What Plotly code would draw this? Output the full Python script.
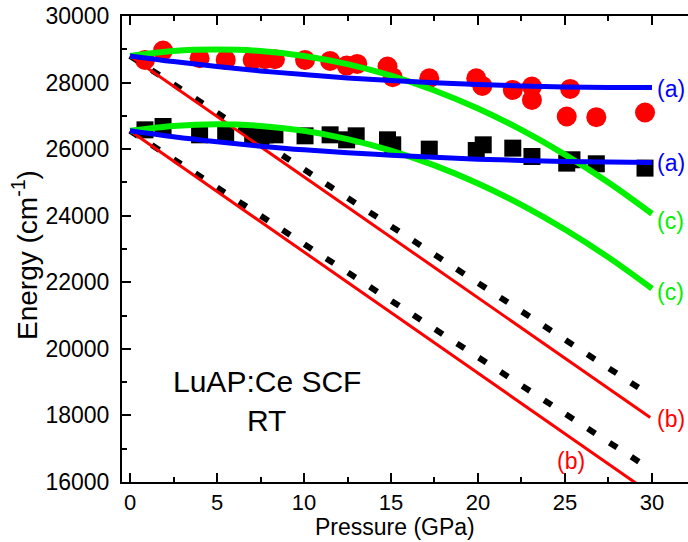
import plotly.graph_objects as go

# ---- data ----
P_circ = [0.86, 1.9, 4.0, 5.5, 7.05, 7.76, 8.33, 10.06, 11.5, 12.45, 13.06, 14.8, 15.1, 17.2, 19.9, 20.25, 22.0, 23.1, 23.1, 25.1, 25.3, 26.8, 29.6]
E_circ = [28680, 28960, 28730, 28680, 28680, 28700, 28700, 28680, 28650, 28510, 28560, 28480, 28160, 28130, 28130, 27900, 27780, 27880, 27480, 26980, 27810, 26960, 27100]

P_sq = [0.86, 1.9, 4.0, 5.5, 7.05, 7.76, 8.33, 10.06, 11.5, 12.45, 13.0, 14.8, 15.1, 17.2, 19.9, 20.3, 22.0, 23.1, 25.1, 25.4, 26.8, 29.6]
E_sq = [26580, 26680, 26430, 26430, 26430, 26430, 26430, 26400, 26430, 26280, 26400, 26280, 26130, 26000, 25960, 26130, 26030, 25780, 25580, 25680, 25560, 25430]

P_curve = [0, 2.5, 5, 7.5, 10, 12.5, 15, 17.5, 20, 22.5, 25, 27.5, 30]
E_a_up = [28800, 28630, 28480, 28350, 28240, 28140, 28060, 27995, 27940, 27900, 27870, 27855, 27850]
E_a_lo = [26550, 26370, 26220, 26090, 25980, 25895, 25820, 25755, 25700, 25660, 25630, 25610, 25600]
E_c_up = [28800, 28948, 28990, 28948, 28800, 28553, 28208, 27763, 27220, 26578, 25837, 24998, 24060]
E_c_lo = [26550, 26698, 26748, 26698, 26550, 26303, 25958, 25513, 24970, 24328, 23587, 22748, 21810]

P_b_up = [0, 29.9]
E_b_up = [28800, 17940]
P_b_lo = [0, 30]
E_b_lo = [26550, 15630]

P_d = [0, 29.3]
E_d_up = [28800, 18810]
E_d_lo = [26550, 16590]

x_ticks = [0, 5, 10, 15, 20, 25, 30]
y_ticks = [16000, 18000, 20000, 22000, 24000, 26000, 28000, 30000]

FONT = "Arial, Liberation Sans, sans-serif"
RED = "#ff0000"
BLUE = "#0000ff"
GREEN = "#00f000"

fig = go.Figure()

# markers (drawn beneath lines)
fig.add_trace(go.Scatter(x=P_circ, y=E_circ, mode="markers",
                         marker=dict(symbol="circle", size=20, color=RED, line=dict(width=0))))
fig.add_trace(go.Scatter(x=P_sq, y=E_sq, mode="markers",
                         marker=dict(symbol="square", size=17, color="black", line=dict(width=0))))

# dashed black lines
for e in (E_d_up, E_d_lo):
    fig.add_trace(go.Scatter(x=P_d, y=e, mode="lines",
                             line=dict(color="black", width=6, dash="9px,17px")))
# red lines (b)
fig.add_trace(go.Scatter(x=P_b_up, y=E_b_up, mode="lines", line=dict(color=RED, width=3)))
fig.add_trace(go.Scatter(x=P_b_lo, y=E_b_lo, mode="lines", line=dict(color=RED, width=3)))
# green curves (c)
for e in (E_c_up, E_c_lo):
    fig.add_trace(go.Scatter(x=P_curve, y=e, mode="lines",
                             line=dict(color=GREEN, width=6, shape="spline")))
# blue curves (a)
for e in (E_a_up, E_a_lo):
    fig.add_trace(go.Scatter(x=P_curve, y=e, mode="lines",
                             line=dict(color=BLUE, width=5, shape="spline")))

labels = [
    ("(a)", 30.2, 27810, BLUE, "left"),
    ("(a)", 30.2, 25590, BLUE, "left"),
    ("(c)", 30.2, 23850, GREEN, "left"),
    ("(c)", 30.2, 21720, GREEN, "left"),
    ("(b)", 30.2, 17880, RED, "left"),
    ("(b)", 25.35, 16620, RED, "center"),
]
for t, x, y, c, xa in labels:
    fig.add_annotation(x=x, y=y, text=t, showarrow=False, xanchor=xa, yanchor="middle",
                       font=dict(family=FONT, size=23, color=c))

fig.add_annotation(x=7.87, y=19020, text="LuAP:Ce SCF", showarrow=False,
                   xanchor="center", yanchor="middle", font=dict(family=FONT, size=30, color="black"))
fig.add_annotation(x=7.87, y=17850, text="RT", showarrow=False,
                   xanchor="center", yanchor="middle", font=dict(family=FONT, size=30, color="black"))

# axis titles as paper annotations for exact placement
fig.add_annotation(xref="paper", yref="paper", x=(395 - 122) / 566, y=-(527 - 482) / 466,
                   text="Pressure (GPa)", showarrow=False, xanchor="center", yanchor="middle",
                   font=dict(family=FONT, size=23, color="black"))
fig.add_annotation(xref="paper", yref="paper", x=(25 - 122) / 566, y=(482 - 255) / 466,
                   text="Energy (cm<sup>-1</sup>)", showarrow=False, textangle=-90,
                   xanchor="center", yanchor="middle",
                   font=dict(family=FONT, size=28, color="black"))

fig.update_layout(
    width=688, height=542,
    margin=dict(l=122, r=0, t=16, b=60),
    paper_bgcolor="white", plot_bgcolor="white",
    showlegend=False,
    font=dict(family=FONT, color="black"),
)
fig.update_xaxes(
    range=[-0.46, 32.07], tickvals=x_ticks,
    ticks="inside", ticklen=9, tickwidth=2, tickcolor="black",
    minor=dict(ticks="inside", ticklen=5, tickwidth=2, dtick=2.5, tick0=0, tickcolor="black"),
    showline=True, linewidth=2, linecolor="black", mirror="ticks",
    showgrid=False, zeroline=False,
    tickfont=dict(family=FONT, size=22), ticklabelstandoff=0,
)
fig.update_yaxes(
    range=[16000, 30000], tickvals=y_ticks, tickformat="d",
    ticks="inside", ticklen=9, tickwidth=2, tickcolor="black",
    minor=dict(ticks="inside", ticklen=5, tickwidth=2, dtick=1000, tick0=0, tickcolor="black"),
    showline=True, linewidth=2, linecolor="black", mirror=False,
    showgrid=False, zeroline=False,
    tickfont=dict(family=FONT, size=23), ticklabelstandoff=6,
)

fig.write_html("out.html")
